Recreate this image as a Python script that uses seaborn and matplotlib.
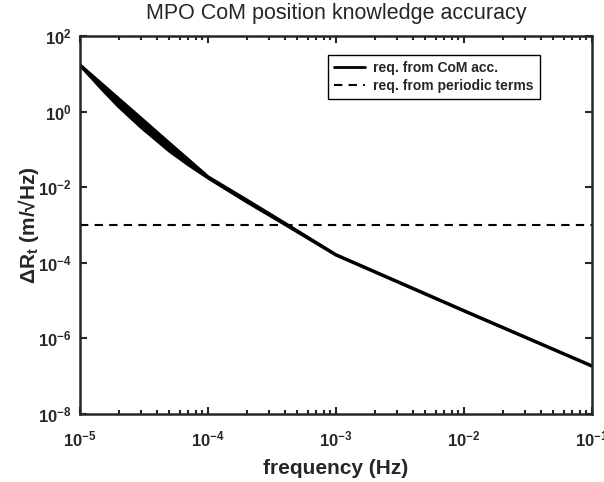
import numpy as np
import pandas as pd
import matplotlib
matplotlib.use("Agg")
import matplotlib.pyplot as plt
import seaborn as sns
from matplotlib.ticker import LogLocator, NullLocator, FuncFormatter

sns.set_style("ticks")
plt.rcParams['font.family'] = ['Liberation Sans', 'DejaVu Sans']
plt.rcParams['mathtext.fontset'] = 'custom'
plt.rcParams['mathtext.rm'] = 'Liberation Sans'
plt.rcParams['mathtext.bf'] = 'Liberation Sans:bold'

# frequencies (Hz) and band edges of the CoM requirement (m/sqrt(Hz))
freq = [1e-5, 1.5e-5, 2e-5, 3e-5, 5e-5, 7e-5, 1e-4, 2e-4, 4e-4, 1e-3, 1e-2, 1e-1]
req_upper = [17.4, 5.25, 2.24, 0.676, 0.148, 0.055, 0.0191, 4.68e-3, 1.12e-3, 1.66e-4, 5.5e-6, 1.9e-7]
req_lower = [16.6, 3.72, 1.35, 0.38, 0.089, 0.039, 0.0174, 4.07e-3, 1.02e-3, 1.58e-4, 5.25e-6, 1.82e-7]
# periodic terms requirement
per_freq = [1e-5, 1e-1]
per_req = [1e-3, 1e-3]

df = pd.DataFrame({"f": freq, "up": req_upper, "lo": req_lower})
dfp = pd.DataFrame({"f": per_freq, "r": per_req})

fig = plt.figure(figsize=(6.04, 4.82), dpi=100)
ax = fig.add_axes([80/604, 1-414/482, 512/604, 378/482])

ax.fill_between(df["f"], df["lo"], df["up"], color="black", lw=0)
sns.lineplot(data=df, x="f", y="up", color="black", lw=2, ax=ax, label="req. from CoM acc.")
sns.lineplot(data=df, x="f", y="lo", color="black", lw=2, ax=ax)
sns.lineplot(data=dfp, x="f", y="r", color="black", lw=1.5, ls=(0, (4, 3)), ax=ax,
             label="req. from periodic terms")

ax.set_xscale("log")
ax.set_yscale("log")
ax.set_xlim(1e-5, 1e-1)
ax.set_ylim(1e-8, 1e2)
ax.set_xticks([1e-5, 1e-4, 1e-3, 1e-2, 1e-1])
ax.set_yticks([1e-8, 1e-6, 1e-4, 1e-2, 1e0, 1e2])
ax.xaxis.set_minor_locator(LogLocator(base=10, subs=np.arange(2, 10), numticks=20))
ax.yaxis.set_minor_locator(NullLocator())
fmt = FuncFormatter(lambda v, p: r"$\mathbf{10^{%d}}$" % round(np.log10(v)))
ax.xaxis.set_major_formatter(fmt)
ax.yaxis.set_major_formatter(fmt)
ax.tick_params(which="both", direction="in", top=True, right=True, width=1.5)
ax.tick_params(which="major", length=5, labelsize=12)
ax.tick_params(axis="x", which="major", pad=11)
ax.tick_params(axis="y", which="major", pad=6)
ax.tick_params(which="minor", length=3)
for s in ax.spines.values():
    s.set_linewidth(1.8)
    s.set_visible(True)

ax.set_xlabel("frequency (Hz)", fontsize=15, fontweight="bold", labelpad=7)
ax.set_ylabel("\u0394$\\mathbf{R_t}$ (m/\u221aHz)", fontsize=15, fontweight="bold", labelpad=-2)
fig.text((80 + 256)/604, 1 - 13/482, "MPO CoM position knowledge accuracy",
         fontsize=15.5, ha="center", va="center")

leg = ax.legend(loc="upper right", bbox_to_anchor=(1 - 52/512, 1 - 19/378), borderaxespad=0,
                fancybox=False, edgecolor="black", framealpha=1,
                prop={"weight": "bold", "size": 10},
                handlelength=2.2, handletextpad=0.6, borderpad=0.45, labelspacing=0.25)
leg.get_frame().set_linewidth(1.0)

fig.savefig("out.png", dpi=100)
